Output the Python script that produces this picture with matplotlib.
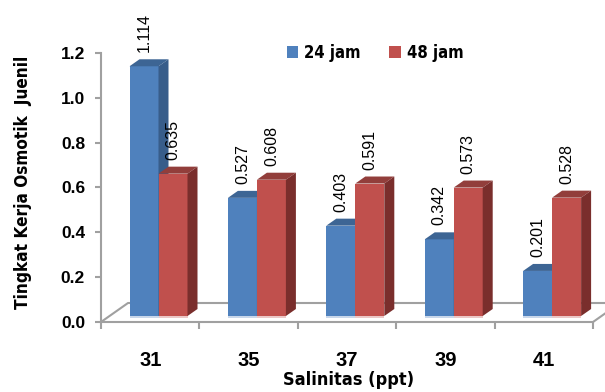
import numpy as np
import matplotlib.pyplot as plt
from matplotlib.patches import Polygon, Rectangle

# Salinity levels and juvenile osmotic work level after 24 h and 48 h
salinitas = ['31', '35', '37', '39', '41']
jam24 = [1.114, 0.527, 0.403, 0.342, 0.201]
jam48 = [0.635, 0.608, 0.591, 0.573, 0.528]
series_names = ['24 jam', '48 jam']

W, H = 605, 392
fig = plt.figure(figsize=(W / 100, H / 100), dpi=100)
ax = fig.add_axes([101 / W, (H - 322) / H, 492 / W, 269 / H])
ax.set_xlim(0, 5)
ax.set_ylim(0, 1.2)

# data units per pixel
px_x = 5 / 492
px_y = 1.2 / 269

narrow = dict(family='DejaVu Sans', stretch='condensed', weight='bold')
gray = '#A0A0A0'

# 3d look: bars stand a little behind the front floor edge
base = 6 * px_y
width = 29 * px_x
depth_x, depth_y = 10 * px_x, 7 * px_y
floor_x, floor_y = 27 * px_x, 19 * px_y

# floor outline
ax.plot([0, floor_x, 5 + floor_x + 1], [0, floor_y, floor_y], color=gray, lw=1.5,
        clip_on=False, zorder=1)
ax.plot([5, 5 + floor_x], [0, floor_y], color=gray, lw=1.5, clip_on=False, zorder=1)

styles = [
    dict(front='#4F81BD', top='#3D6594', side='#385D8A', shade='#C9D7EA', off=28.5 * px_x),
    dict(front='#C0504D', top='#923E3B', side='#7A2E2C', shade='#EBC8C7', off=28.5 * px_x + width),
]

x = np.arange(len(salinitas))
handles = []
for i in x:
    for vals, st in zip([jam24, jam48], styles):
        v = vals[i]
        left = i + st['off']
        right = left + width
        top = base + v
        b = ax.bar(left, v, width=width, bottom=base, align='edge', color=st['front'],
                   zorder=3, clip_on=False)
        if i == 0:
            handles.append(b)
        ax.add_patch(Polygon([[left, top], [right, top], [right + depth_x, top + depth_y],
                              [left + depth_x, top + depth_y]], closed=True,
                             facecolor=st['top'], edgecolor='none', zorder=3, clip_on=False))
        ax.add_patch(Polygon([[right, base], [right, top], [right + depth_x, top + depth_y],
                              [right + depth_x, base + depth_y]], closed=True,
                             facecolor=st['side'], edgecolor='none', zorder=3, clip_on=False))
        ax.add_patch(Rectangle((left, base - 2 * px_y), width, 2 * px_y,
                               facecolor=st['shade'], edgecolor='none', zorder=2, clip_on=False))
        ax.text(left + width / 2, top + depth_y + 7 * px_y, f'{v:.3f}', rotation=90,
                ha='center', va='bottom', fontsize=11.5, family='Liberation Sans',
                zorder=4, clip_on=False)

# axes styling
for s in ['top', 'right']:
    ax.spines[s].set_visible(False)
for s in ['left', 'bottom']:
    ax.spines[s].set_color(gray)
    ax.spines[s].set_linewidth(1.5)
    ax.spines[s].set_zorder(2)

ax.set_yticks(np.arange(0, 1.21, 0.2))
ax.set_yticklabels([f'{t:.1f}' for t in np.arange(0, 1.21, 0.2)],
                   fontsize=12.5, fontweight='bold', family='Liberation Sans')
ax.tick_params(axis='y', length=4.5, width=1.5, color=gray, pad=7)

ax.set_xticks(np.arange(0, 6))
ax.set_xticklabels([])
ax.tick_params(axis='x', which='major', length=5, width=1.5, color=gray)
ax.set_xticks(x + 0.5, minor=True)
ax.set_xticklabels(salinitas, minor=True, fontsize=14.5, fontweight='bold',
                   family='Liberation Sans')
ax.tick_params(axis='x', which='minor', length=0, pad=21)

fig.text(349 / W, 1 - 380 / H, 'Salinitas (ppt)', ha='center', va='center',
         fontsize=13, **narrow)
fig.text(23 / W, 1 - 182 / H, 'Tingkat Kerja Osmotik  Juenil', rotation=90,
         ha='center', va='center', fontsize=12.3, **narrow)

ax.legend(handles, series_names, loc='center', ncol=2, frameon=False,
          bbox_to_anchor=(375 / W, 1 - 53 / H), bbox_transform=fig.transFigure,
          prop=dict(size=12, **narrow),
          handlelength=0.7, handleheight=0.7, handletextpad=0.35, columnspacing=1.7)

fig.savefig('out.png', dpi=100)
